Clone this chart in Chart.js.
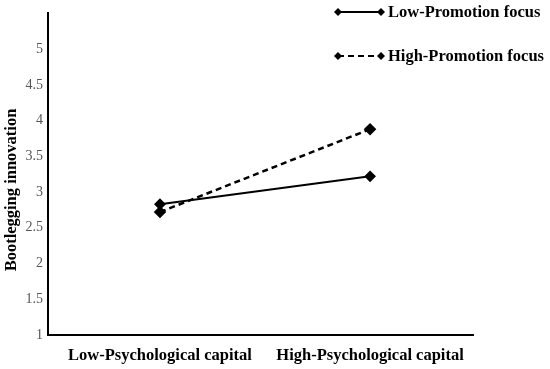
<!DOCTYPE html>
<html><head><meta charset="utf-8">
<script src="https://cdn.jsdelivr.net/npm/chart.js@4/dist/chart.umd.min.js"></script>
<style>html,body{margin:0;padding:0;background:#fff}#wrap{width:550px;height:369px}</style>
</head><body><div id="wrap"><canvas id="c" width="550" height="369"></canvas></div>
<script>
const categories = ["Low-Psychological capital", "High-Psychological capital"];
const seriesNames = ["Low-Promotion focus", "High-Promotion focus"];
const lowPromotion = [2.83, 3.22];
const highPromotion = [2.72, 3.88];
const yTicks = [1, 1.5, 2, 2.5, 3, 3.5, 4, 4.5, 5];
const yTitle = "Bootlegging innovation";

const toPts = arr => arr.map((v, i) => ({x: i, y: v}));

const legendPlugin = {
  id: 'customLegend',
  afterDraw(chart) {
    const ctx = chart.ctx;
    const ys = [12, 56];
    chart.data.datasets.forEach((ds, i) => {
      const y = ys[i], x0 = 338, x1 = 381;
      ctx.save();
      ctx.strokeStyle = '#000'; ctx.lineWidth = 2;
      ctx.setLineDash(ds.borderDash || []);
      ctx.beginPath(); ctx.moveTo(x0, y); ctx.lineTo(x1, y); ctx.stroke();
      ctx.setLineDash([]);
      ctx.fillStyle = '#000';
      [x0, x1].forEach(x => {
        ctx.beginPath(); ctx.moveTo(x, y - 4); ctx.lineTo(x + 4, y); ctx.lineTo(x, y + 4); ctx.lineTo(x - 4, y); ctx.closePath(); ctx.fill();
      });
      ctx.font = 'bold 16.5px "Liberation Serif"';
      ctx.textBaseline = 'middle'; ctx.textAlign = 'left';
      ctx.fillText(ds.label, 388, y + 1);
      ctx.restore();
    });
    // y-axis title
    ctx.save();
    ctx.translate(12, 190);
    ctx.rotate(-Math.PI / 2);
    ctx.font = 'bold 16.5px "Liberation Serif"';
    ctx.fillStyle = '#000';
    ctx.textAlign = 'center'; ctx.textBaseline = 'middle';
    ctx.fillText(yTitle, 0, 0);
    ctx.restore();
  }
};

new Chart(document.getElementById('c'), {
  type: 'line',
  data: {
    datasets: [
      {label: seriesNames[0], data: toPts(lowPromotion), borderColor: '#000', backgroundColor: '#000', borderWidth: 2,
       pointStyle: 'rectRot', pointRadius: 4.5, pointBackgroundColor: '#000', pointBorderColor: '#000'},
      {label: seriesNames[1], data: toPts(highPromotion), borderColor: '#000', backgroundColor: '#000', borderWidth: 2.5, borderDash: [6, 4],
       pointStyle: 'rectRot', pointRadius: 4.5, pointBackgroundColor: '#000', pointBorderColor: '#000'}
    ]
  },
  options: {
    responsive: false, animation: false,
    layout: {padding: {top: 6, right: 77, left: 0, bottom: 0}},
    plugins: {legend: {display: false}, tooltip: {enabled: false}},
    scales: {
      x: {
        type: 'linear', min: -0.533, max: 1.49,
        afterBuildTicks: s => { s.ticks = categories.map((c, i) => ({value: i})); },
        afterFit: s => { s.height = 34; },
        grid: {display: false, drawTicks: false},
        border: {display: true, color: '#000', width: 2},
        ticks: {padding: 11, color: '#000', font: {family: 'Liberation Serif', size: 16.5, weight: 'bold'},
                callback: v => categories[v] ?? '', maxRotation: 0, autoSkip: false}
      },
      y: {
        min: 1, max: 5.5,
        afterBuildTicks: s => { s.ticks = yTicks.map(v => ({value: v})); },
        afterFit: s => { s.width = 48; },
        grid: {display: false, drawTicks: false},
        border: {display: true, color: '#000', width: 2},
        ticks: {padding: 5, color: '#555555', font: {family: 'Liberation Serif', size: 14},
                callback: v => String(v)},
        title: {display: false}
      }
    }
  },
  plugins: [legendPlugin]
});
</script></body></html>
